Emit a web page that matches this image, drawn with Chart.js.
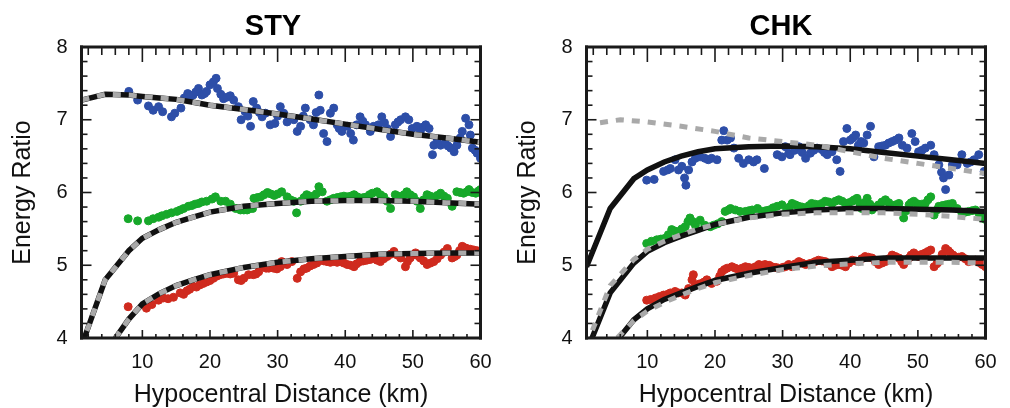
<!DOCTYPE html>
<html>
<head>
<meta charset="utf-8">
<script src="https://cdn.jsdelivr.net/npm/chart.js@4"></script>
<style>
  body { margin: 0; background: #fff; }
  #wrap { position: relative; width: 1010px; height: 408px; }
  .panel { position: absolute; top: 0; width: 505px; height: 408px; }
</style>
</head>
<body>
<div id="wrap">
  <div class="panel" style="left:0"><canvas id="sty_chart" width="505" height="408"></canvas></div>
  <div class="panel" style="left:505px"><canvas id="chk_chart" width="505" height="408"></canvas></div>
</div>
<script>
// tick labels
var xTicks = [10, 20, 30, 40, 50, 60];
var yTicks = [4, 5, 6, 7, 8];

// model curves (distance in km)
var curveX = [1, 4.5, 8, 10, 12.5, 15, 17.5, 20, 25, 30, 35, 40, 45, 50, 55, 60];

var styBlueFit  = [7.27, 7.35, 7.34, 7.32, 7.30, 7.28, 7.24, 7.20, 7.14, 7.08, 7.01, 6.94, 6.87, 6.80, 6.75, 6.69];
var styGreenFit = [3.89, 4.80, 5.20, 5.37, 5.49, 5.59, 5.66, 5.73, 5.81, 5.85, 5.88, 5.89, 5.89, 5.88, 5.86, 5.84];
var styRedFit   = [3.00, 3.80, 4.26, 4.47, 4.61, 4.72, 4.80, 4.87, 4.97, 5.04, 5.09, 5.12, 5.15, 5.16, 5.17, 5.17];

var chkBlueFit   = [4.98, 5.78, 6.19, 6.31, 6.42, 6.50, 6.56, 6.60, 6.63, 6.64, 6.63, 6.60, 6.55, 6.50, 6.45, 6.40];
var chkGreenFit  = [3.81, 4.62, 5.03, 5.19, 5.31, 5.40, 5.48, 5.56, 5.66, 5.72, 5.76, 5.78, 5.78, 5.77, 5.76, 5.74];
var chkRedFit    = [3.00, 3.85, 4.25, 4.40, 4.53, 4.62, 4.71, 4.79, 4.89, 4.97, 5.04, 5.07, 5.10, 5.10, 5.10, 5.10];
var chkGreenAlt  = [3.90, 4.72, 5.08, 5.22, 5.33, 5.42, 5.50, 5.56, 5.65, 5.70, 5.72, 5.72, 5.72, 5.70, 5.67, 5.63];
var chkRedAlt    = [3.00, 3.90, 4.24, 4.37, 4.49, 4.59, 4.68, 4.76, 4.86, 4.94, 4.99, 5.02, 5.04, 5.04, 5.04, 5.03];
var chkBlueAltX  = [3, 6, 10, 15, 20, 25, 30, 35, 40, 45, 50, 55, 60];
var chkBlueAlt   = [6.96, 7.00, 6.97, 6.91, 6.84, 6.75, 6.70, 6.65, 6.56, 6.47, 6.40, 6.33, 6.26];

// observed energy ratios - STY
var styBlueX = [8.0, 9.3, 10.9, 11.6, 12.4, 13.0, 14.3, 14.8, 15.7, 16.2, 16.7, 17.1, 17.5, 17.9, 18.3, 18.8, 19.2, 19.5, 20.0, 20.5, 20.9, 21.1, 21.6, 22.0, 22.5, 23.0, 23.5, 24.2, 24.6, 25.2, 25.6, 26.0, 26.4, 26.9, 27.3, 27.7, 28.2, 28.9, 29.6, 30.0, 30.4, 30.9, 31.4, 31.9, 32.4, 32.9, 33.4, 33.8, 34.1, 34.8, 35.3, 35.7, 36.1, 36.3, 36.8, 37.3, 37.8, 38.3, 38.8, 39.1, 39.5, 40.3, 40.8, 41.2, 41.7, 42.2, 42.6, 43.0, 43.7, 44.2, 44.9, 45.4, 45.8, 46.2, 46.7, 47.4, 47.8, 48.2, 48.9, 49.4, 49.9, 50.6, 51.1, 51.5, 51.9, 52.4, 52.9, 53.1, 53.6, 54.1, 54.8, 55.2, 55.6, 56.1, 56.5, 57.0, 57.3, 57.8, 58.3, 58.5, 58.8, 59.2, 59.5, 60.0];
var styBlueY = [7.39, 7.27, 7.19, 7.13, 7.18, 7.11, 7.04, 7.09, 7.16, 7.30, 7.36, 7.32, 7.34, 7.38, 7.43, 7.34, 7.36, 7.39, 7.48, 7.52, 7.57, 7.43, 7.35, 7.29, 7.31, 7.33, 7.27, 7.18, 7.00, 7.11, 7.05, 6.91, 7.25, 7.16, 7.10, 7.04, 7.09, 6.93, 6.95, 7.05, 7.18, 7.09, 6.97, 7.02, 7.00, 6.84, 6.91, 7.05, 7.16, 7.00, 6.93, 7.10, 7.34, 7.13, 6.81, 6.70, 7.09, 7.16, 6.93, 6.88, 6.84, 6.91, 6.81, 6.72, 6.93, 7.04, 6.98, 6.93, 6.84, 6.91, 6.93, 7.04, 6.96, 6.88, 6.77, 6.93, 6.97, 7.00, 7.04, 7.00, 6.88, 6.91, 6.84, 6.90, 6.93, 6.88, 6.52, 6.65, 6.72, 6.65, 6.68, 6.64, 6.61, 6.56, 6.65, 6.75, 6.84, 7.02, 6.93, 6.79, 6.61, 6.58, 6.54, 6.47];

var styGreenX = [7.9, 9.3, 10.9, 11.6, 12.4, 12.9, 13.6, 14.3, 15.1, 15.6, 16.1, 16.8, 17.3, 17.8, 18.3, 18.8, 19.5, 20.3, 20.8, 21.6, 22.3, 23.0, 23.8, 24.5, 25.0, 25.5, 26.3, 26.5, 27.0, 27.5, 28.0, 28.5, 29.0, 29.5, 30.0, 30.6, 31.4, 31.9, 32.4, 32.8, 33.4, 33.9, 34.3, 34.8, 35.3, 35.7, 36.1, 36.6, 37.3, 37.8, 38.3, 38.8, 39.3, 39.8, 40.3, 40.8, 41.3, 41.8, 42.2, 42.7, 43.2, 43.6, 44.0, 44.7, 45.2, 45.7, 46.2, 46.7, 47.4, 47.8, 48.2, 48.7, 49.1, 49.6, 50.1, 50.6, 51.1, 51.6, 52.1, 52.6, 53.1, 53.6, 54.1, 54.6, 55.1, 55.8, 56.5, 57.0, 57.5, 58.0, 58.3, 58.8, 59.3, 59.7, 60.0];
var styGreenY = [5.64, 5.61, 5.61, 5.64, 5.66, 5.68, 5.70, 5.72, 5.74, 5.76, 5.78, 5.81, 5.82, 5.84, 5.85, 5.87, 5.88, 5.91, 5.94, 5.88, 5.88, 5.84, 5.78, 5.76, 5.76, 5.76, 5.78, 5.92, 5.93, 5.94, 5.97, 6.00, 5.98, 5.96, 5.98, 6.01, 5.94, 5.90, 5.88, 5.72, 5.88, 5.93, 5.97, 5.95, 5.92, 5.98, 6.08, 6.01, 5.88, 5.90, 5.92, 5.93, 5.94, 5.95, 5.94, 5.95, 5.97, 5.94, 5.92, 5.93, 5.94, 5.97, 5.99, 6.01, 5.97, 5.94, 5.88, 5.78, 5.97, 5.95, 5.94, 5.97, 6.01, 5.97, 5.94, 5.88, 5.78, 5.90, 5.97, 5.95, 5.92, 5.96, 5.99, 5.95, 5.92, 5.81, 6.01, 6.00, 5.99, 6.01, 6.04, 6.00, 5.99, 6.02, 6.04];

var styRedX = [7.9, 10.6, 11.4, 12.4, 13.1, 13.8, 14.6, 15.6, 16.1, 16.6, 17.0, 17.5, 18.0, 18.5, 19.0, 19.5, 20.0, 20.5, 21.0, 21.5, 22.0, 22.5, 23.0, 23.5, 24.2, 24.6, 25.0, 25.7, 26.4, 26.8, 27.2, 27.9, 28.3, 28.7, 29.4, 29.9, 30.4, 30.6, 31.0, 31.4, 32.1, 32.9, 33.4, 33.9, 34.3, 34.8, 35.3, 35.8, 36.3, 36.8, 37.3, 37.8, 38.3, 38.8, 39.3, 39.8, 40.3, 40.8, 41.3, 41.7, 42.2, 42.7, 43.2, 43.7, 44.2, 44.7, 45.2, 45.7, 46.2, 46.7, 47.2, 47.7, 48.2, 48.9, 49.2, 49.6, 50.0, 50.4, 50.8, 51.1, 51.6, 52.1, 52.6, 53.1, 53.6, 54.1, 54.6, 55.1, 55.8, 56.2, 56.5, 56.9, 57.3, 57.7, 58.0, 58.5, 59.0, 59.5, 60.0];
var styRedY = [4.43, 4.41, 4.46, 4.52, 4.55, 4.54, 4.56, 4.62, 4.60, 4.65, 4.67, 4.71, 4.70, 4.73, 4.75, 4.77, 4.79, 4.82, 4.85, 4.87, 4.88, 4.89, 4.88, 4.89, 4.80, 4.79, 4.82, 4.87, 4.87, 4.88, 4.91, 4.98, 4.96, 4.96, 4.96, 4.95, 4.98, 5.05, 5.02, 5.01, 5.05, 4.82, 4.91, 4.95, 4.96, 4.99, 5.01, 5.03, 5.07, 5.06, 5.05, 5.04, 5.05, 5.04, 5.05, 5.03, 5.01, 5.00, 4.98, 5.02, 5.05, 5.06, 5.07, 5.08, 5.10, 5.07, 5.05, 5.09, 5.12, 5.15, 5.19, 5.14, 5.10, 4.98, 5.05, 5.10, 5.14, 5.17, 5.13, 5.10, 5.06, 5.01, 5.03, 5.05, 5.09, 5.14, 5.18, 5.23, 5.10, 5.12, 5.14, 5.20, 5.26, 5.24, 5.23, 5.22, 5.21, 5.20, 5.19];

// observed energy ratios - CHK
var chkBlueX = [9.9, 11.0, 12.4, 13.0, 13.4, 14.1, 14.6, 15.1, 15.5, 15.7, 16.1, 16.6, 17.1, 17.8, 18.5, 19.0, 19.5, 20.3, 21.0, 21.3, 21.8, 22.3, 22.8, 23.5, 24.2, 25.0, 25.7, 26.2, 27.3, 29.2, 29.9, 30.4, 30.9, 31.1, 31.8, 32.4, 32.9, 33.4, 34.1, 34.6, 35.1, 35.8, 36.2, 36.6, 37.3, 38.0, 38.5, 39.0, 39.5, 40.0, 40.4, 40.8, 41.2, 41.6, 42.0, 42.5, 43.0, 43.5, 44.2, 44.7, 45.2, 45.7, 46.2, 46.7, 47.2, 47.7, 48.4, 49.1, 49.6, 50.1, 50.6, 51.1, 51.9, 52.4, 53.1, 53.5, 53.8, 54.1, 54.6, 55.1, 55.8, 56.5, 57.3, 57.8, 58.3, 59.0, 59.8];
var chkBlueY = [6.17, 6.18, 6.29, 6.31, 6.33, 6.45, 6.31, 6.36, 6.20, 6.10, 6.31, 6.42, 6.47, 6.49, 6.47, 6.45, 6.47, 6.45, 6.72, 6.85, 6.72, 6.75, 6.61, 6.47, 6.40, 6.45, 6.42, 6.45, 6.33, 6.52, 6.49, 6.63, 6.54, 6.52, 6.58, 6.63, 6.55, 6.47, 6.54, 6.58, 6.61, 6.59, 6.55, 6.52, 6.56, 6.45, 6.29, 6.70, 6.88, 6.72, 6.75, 6.79, 6.65, 6.70, 6.68, 6.79, 6.91, 6.49, 6.63, 6.64, 6.65, 6.68, 6.70, 6.72, 6.75, 6.65, 6.61, 6.81, 6.70, 6.56, 6.58, 6.61, 6.65, 6.52, 6.38, 6.28, 6.20, 6.04, 6.24, 6.38, 6.38, 6.52, 6.40, 6.42, 6.45, 6.52, 6.29];

var chkGreenX = [9.9, 10.6, 11.4, 12.0, 12.6, 13.1, 13.6, 14.1, 14.6, 15.1, 15.6, 16.0, 16.3, 16.7, 17.1, 17.8, 18.5, 19.3, 19.8, 20.4, 21.0, 21.5, 22.0, 22.3, 23.0, 23.7, 24.5, 25.0, 25.5, 26.3, 27.0, 27.5, 28.0, 28.6, 29.2, 29.9, 30.6, 31.0, 31.4, 31.9, 32.4, 32.9, 33.4, 33.9, 34.3, 34.8, 35.3, 35.8, 36.3, 36.8, 37.3, 37.8, 38.3, 38.8, 39.3, 39.8, 40.3, 40.6, 41.0, 41.4, 41.7, 42.1, 42.5, 42.9, 43.2, 43.7, 44.2, 44.7, 45.2, 45.7, 46.2, 46.7, 47.2, 47.6, 47.9, 48.3, 48.7, 49.0, 49.4, 49.8, 50.1, 50.6, 51.1, 51.5, 51.9, 52.4, 52.8, 53.1, 53.6, 54.1, 54.6, 55.1, 55.8, 56.5, 57.0, 57.5, 58.0, 58.5, 59.0, 59.5, 60.0];
var chkGreenY = [5.30, 5.33, 5.35, 5.36, 5.37, 5.42, 5.49, 5.47, 5.46, 5.50, 5.53, 5.60, 5.65, 5.60, 5.55, 5.62, 5.55, 5.53, 5.55, 5.57, 5.60, 5.74, 5.76, 5.78, 5.76, 5.74, 5.74, 5.75, 5.76, 5.78, 5.74, 5.75, 5.76, 5.79, 5.81, 5.83, 5.76, 5.80, 5.85, 5.83, 5.81, 5.80, 5.78, 5.82, 5.85, 5.84, 5.83, 5.85, 5.88, 5.87, 5.85, 5.88, 5.90, 5.88, 5.85, 5.86, 5.88, 5.90, 5.92, 5.85, 5.78, 5.86, 5.92, 5.84, 5.76, 5.80, 5.83, 5.87, 5.90, 5.86, 5.81, 5.83, 5.85, 5.76, 5.65, 5.75, 5.83, 5.86, 5.88, 5.85, 5.83, 5.84, 5.85, 5.90, 5.94, 5.69, 5.76, 5.81, 5.82, 5.83, 5.84, 5.85, 5.78, 5.72, 5.73, 5.74, 5.75, 5.76, 5.72, 5.65, 5.63];

var chkRedX = [9.9, 10.5, 11.2, 11.8, 12.4, 13.0, 13.4, 14.1, 14.6, 15.1, 15.6, 16.1, 16.6, 16.8, 17.1, 17.6, 18.0, 18.4, 18.8, 19.5, 20.3, 20.7, 21.0, 21.4, 21.8, 22.5, 23.0, 23.5, 24.0, 24.5, 25.0, 25.5, 26.0, 26.5, 27.0, 27.4, 28.0, 28.4, 29.0, 29.4, 30.0, 30.4, 30.9, 31.4, 31.9, 32.4, 32.9, 33.4, 33.9, 34.3, 34.8, 35.3, 35.8, 36.3, 36.8, 37.3, 37.8, 38.3, 38.8, 39.3, 39.8, 40.3, 40.8, 41.2, 41.7, 42.2, 42.7, 43.2, 43.7, 44.2, 44.7, 45.2, 45.7, 46.2, 46.7, 47.2, 47.6, 47.9, 48.3, 48.7, 49.0, 49.4, 49.8, 50.1, 50.6, 51.1, 51.5, 51.9, 52.4, 52.8, 53.1, 53.6, 54.1, 54.5, 54.8, 55.2, 55.6, 56.0, 56.5, 57.0, 57.5, 58.0, 58.5, 59.0, 59.5, 60.0];
var chkRedY = [4.52, 4.53, 4.55, 4.57, 4.59, 4.60, 4.62, 4.64, 4.62, 4.62, 4.59, 4.68, 4.80, 4.87, 4.73, 4.74, 4.75, 4.77, 4.80, 4.75, 4.78, 4.85, 4.91, 4.94, 4.96, 4.98, 4.96, 4.94, 4.96, 4.98, 4.97, 4.96, 4.98, 5.01, 5.00, 5.01, 5.00, 4.98, 4.97, 4.96, 4.97, 4.98, 5.01, 4.98, 5.02, 5.05, 5.03, 5.01, 5.02, 5.03, 5.05, 5.07, 5.06, 5.05, 5.02, 4.98, 5.00, 5.01, 5.00, 4.98, 5.03, 5.07, 5.06, 5.05, 5.09, 5.12, 5.11, 5.10, 5.05, 5.01, 5.03, 5.05, 5.09, 5.14, 5.12, 5.10, 5.05, 5.01, 5.06, 5.10, 5.14, 5.17, 5.14, 5.12, 5.15, 5.17, 5.19, 5.21, 4.98, 5.02, 5.05, 5.15, 5.23, 5.20, 5.17, 5.14, 5.10, 5.11, 5.12, 5.09, 5.05, 5.06, 5.07, 5.04, 5.01, 4.98];

var BLUE = "#2D4EA8", GREEN = "#17A82A", RED = "#CF2A1E";
var FONT = "'Liberation Sans', Arial, Helvetica, sans-serif";

function pts(xs, ys) {
  return xs.map(function (v, i) { return { x: v, y: ys[i] }; });
}

function dots(xs, ys, color) {
  return { type: 'scatter', data: pts(xs, ys), backgroundColor: color, borderColor: color, borderWidth: 1,
           pointRadius: 4, pointHoverRadius: 4, order: 3 };
}

function fitLine(xs, ys, dashed) {
  return {
    type: 'scatter', data: pts(xs, ys), showLine: true, pointRadius: 0, pointHoverRadius: 0,
    borderColor: dashed ? "#A9A9A9" : "#111111", borderWidth: dashed ? 5 : 5.5,
    borderDash: dashed ? [8, 8] : [], tension: 0, order: dashed ? 1 : 2
  };
}

// inward ticks on all four sides, heavy frame and the panel title
var frameTicks = {
  id: 'frameTicks',
  afterDraw: function (chart) {
    var c = chart.ctx, a = chart.chartArea;
    var sx = chart.scales.x, sy = chart.scales.y;
    c.save();
    c.setLineDash([]);
    c.fillStyle = "#1a1a1a";
    for (var k = 1; k < 30; k++) {
      var px = sx.getPixelForValue(k * 2);
      var major = (k % 5 === 0);
      c.fillRect(px - 0.8, a.top, 1.6, major ? 15 : 8);
      c.fillRect(px - 0.8, a.bottom - (major ? 8 : 4), 1.6, major ? 8 : 4);
    }
    for (var i = 1; i < 20; i++) {
      var py = sy.getPixelForValue(4 + i * 0.2);
      var len = (i % 5 === 0) ? 10 : 6;
      c.fillRect(a.left, py - 0.8, len, 1.6);
      c.fillRect(a.right - len, py - 0.8, len, 1.6);
    }
    c.fillRect(a.left - 1.5, a.top - 1.5, a.right - a.left + 3, 3);
    c.fillRect(a.left - 1.5, a.bottom - 1.5, a.right - a.left + 3, 3);
    c.fillRect(a.left - 1.5, a.top - 1.5, 3, a.bottom - a.top + 3);
    c.fillRect(a.right - 1.5, a.top - 1.5, 3, a.bottom - a.top + 3);
    var opt = chart.options.plugins.frameTicks;
    c.fillStyle = "#000";
    c.font = "bold 29px " + FONT;
    c.textAlign = "center";
    c.textBaseline = "alphabetic";
    c.fillText(opt.text, opt.tx, 35);
    c.restore();
  }
};

function panelOptions(title, tx) {
  return {
    responsive: false,
    devicePixelRatio: 1,
    animation: false,
    layout: { padding: { top: 47, right: 24.5, left: 0, bottom: 0 } },
    plugins: {
      legend: { display: false },
      tooltip: { enabled: false },
      frameTicks: { text: title, tx: tx }
    },
    scales: {
      x: {
        type: 'linear', min: 1, max: 60,
        grid: { display: false, drawTicks: false },
        border: { display: false },
        afterBuildTicks: function (s) { s.ticks = xTicks.map(function (v) { return { value: v }; }); },
        afterFit: function (s) { s.height = 70; },
        ticks: { color: "#111", padding: 12, maxRotation: 0, font: { family: FONT, size: 20 } },
        title: { display: true, text: 'Hypocentral Distance (km)', color: "#111",
                 padding: { top: 0, bottom: 0 }, font: { family: FONT, size: 25, lineHeight: 1 } }
      },
      y: {
        type: 'linear', min: 4, max: 8,
        grid: { display: false, drawTicks: false },
        border: { display: false },
        afterBuildTicks: function (s) { s.ticks = yTicks.map(function (v) { return { value: v }; }); },
        afterFit: function (s) { s.width = 81.5; },
        ticks: { color: "#111", padding: 14, font: { family: FONT, size: 20 } },
        title: { display: true, text: 'Energy Ratio', color: "#111",
                 padding: { top: 10.5, bottom: 0 }, font: { family: FONT, size: 25, lineHeight: 1 } }
      }
    }
  };
}

function start() {
  var ctx = document.getElementById("sty_chart").getContext("2d");
  new Chart(ctx, {
    type: 'scatter',
    data: { datasets: [
      fitLine(curveX, styBlueFit, true), fitLine(curveX, styGreenFit, true), fitLine(curveX, styRedFit, true),
      fitLine(curveX, styBlueFit, false), fitLine(curveX, styGreenFit, false), fitLine(curveX, styRedFit, false),
      dots(styBlueX, styBlueY, BLUE), dots(styGreenX, styGreenY, GREEN), dots(styRedX, styRedY, RED)
    ] },
    options: panelOptions('STY', 273),
    plugins: [frameTicks]
  });

  var ctx2 = document.getElementById("chk_chart").getContext("2d");
  new Chart(ctx2, {
    type: 'scatter',
    data: { datasets: [
      fitLine(chkBlueAltX, chkBlueAlt, true), fitLine(curveX, chkGreenAlt, true), fitLine(curveX, chkRedAlt, true),
      fitLine(curveX, chkBlueFit, false), fitLine(curveX, chkGreenFit, false), fitLine(curveX, chkRedFit, false),
      dots(chkBlueX, chkBlueY, BLUE), dots(chkGreenX, chkGreenY, GREEN), dots(chkRedX, chkRedY, RED)
    ] },
    options: panelOptions('CHK', 276),
    plugins: [frameTicks]
  });
}

window.onload = start;
</script>
</body>
</html>
